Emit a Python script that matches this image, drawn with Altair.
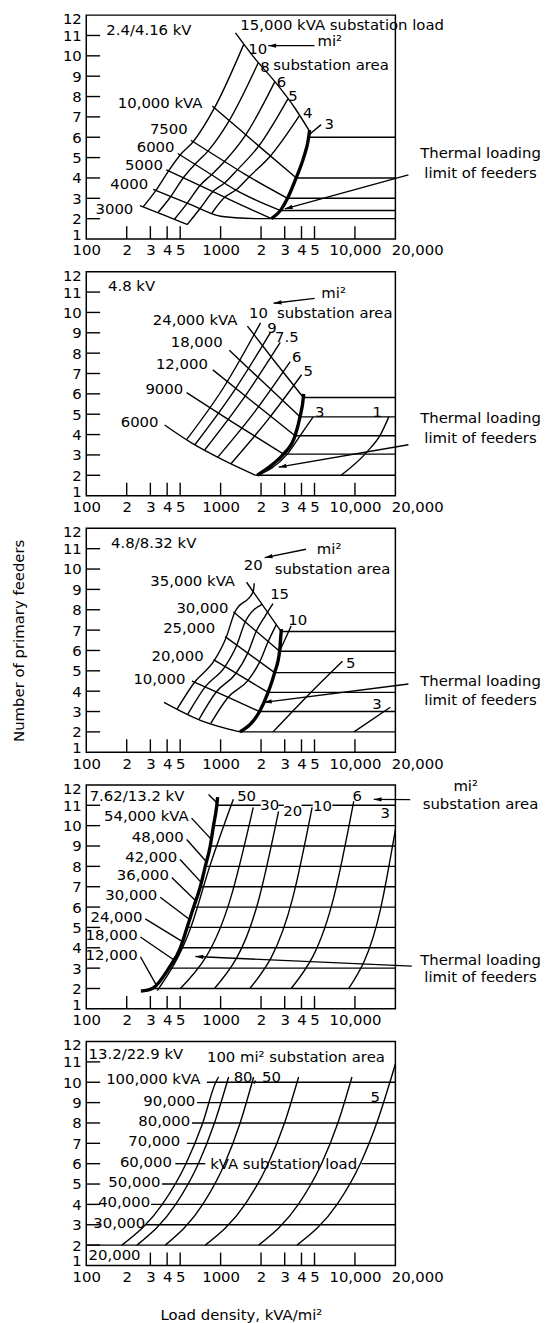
import math
import altair as alt
import pandas as pd

FONT = "DejaVu Sans"
FS = 15
W, H = 312, 226
XDOM = [100, 20000]
YDOM = [1, 12]
RIGHT = 20000

XVALS = [100, 200, 300, 400, 500, 1000, 2000, 3000, 4000, 5000, 10000, 20000]
XVALS_P4 = [100, 200, 300, 400, 500, 1000, 2000, 3000, 4000, 5000, 10000]
XTICKS = [200, 300, 400, 500, 1000, 2000, 3000, 4000, 5000, 10000]
XTICKS_P5 = [300, 400, 500, 1000, 2000, 3000, 4000, 5000, 10000]
YVALS = list(range(1, 13))
YTICKS = list(range(2, 12))

# ---------------- Panel 1 : 2.4/4.16 kV ----------------
P1_KVA = {
    "3000": [(251, 2.64), (400, 2.11), (569, 1.71)],
    "4000": [(315, 3.44), (600, 2.69), (1000, 2.12), (1862, 2.0)],
    "5000": [(394, 4.4), (800, 3.45), (1200, 2.9), (2393, 2.0)],
    "6000": [(480, 5.2), (800, 4.28), (1300, 3.4), (2800, 2.4)],
    "7500": [(601, 5.85), (1000, 4.93), (1500, 4.2), (3150, 3.0)],
    "10000": [(868, 7.53), (1300, 6.54), (1900, 5.6), (3650, 4.0)],
    "15000": [(1290, 11.13), (1808, 9.85), (2537, 8.73), (3560, 7.45), (4590, 6.3)],
}
P1_AREA = {
    "10": [(265, 2.58), (330, 3.39), (410, 4.35), (500, 5.13), (625, 5.78), (900, 7.44), (1484, 10.55)],
    "8": [(341, 2.29), (426, 3.09), (528, 4.01), (644, 4.67), (805, 5.32), (1159, 6.82), (1910, 9.67)],
    "6": [(453, 1.97), (565, 2.76), (702, 3.63), (855, 4.16), (1069, 4.81), (1538, 6.12), (2535, 8.73)],
    "5": [(566, 1.72), (706, 2.51), (877, 3.33), (1069, 3.75), (1337, 4.41), (1923, 5.57), (3170, 7.89)],
    "4": [(863, 2.28), (1072, 3.05), (1306, 3.42), (1633, 4.06), (2350, 5.08), (3873, 7.07)],
    "3": [(4600, 6.15), (5600, 6.62)],
}
P1_THERMAL = [(2393, 2.0), (2800, 2.42), (3150, 3.0), (3650, 4.0), (4150, 5.0), (4500, 5.9), (4600, 6.35)]
P1_FEEDERS = [(6.0, 4600), (4.0, 3650), (3.0, 3150), (2.4, 2800), (2.0, 1862)]
P1_ARROWS = [(5000, 10.5, 2265, 10.5), (25000, 4.15, 3006, 2.48)]
P1_TEXT_L = [("2.4/4.16 kV", 141, 11.29), ("15,000 kVA substation load", 1403, 11.53),
             ("10", 1607, 10.33), ("mi²", 5260, 10.73), ("substation area", 2466, 9.53)]
P1_TEXT_C = [("8", 2143, 9.45), ("6", 2843, 8.73), ("5", 3460, 8.0), ("4", 4460, 7.2), ("3", 6440, 6.64),
             ("Thermal loading", 86000, 5.2), ("limit of feeders", 86000, 4.25)]
P1_TEXT_R = [("10,000 kVA", 733, 7.69), ("7500", 569, 6.41), ("6000", 454, 5.53),
             ("5000", 372, 4.64), ("4000", 289, 3.68), ("3000", 224, 2.48)]

# ---------------- Panel 2 : 4.8 kV ----------------
P2_KVA = {
    "6000": [(383, 4.47), (607, 3.59), (1067, 2.72), (1823, 2.0)],
    "9000": [(558, 6.06), (1200, 4.65), (2942, 3.04)],
    "12000": [(875, 7.18), (1700, 5.65), (3583, 3.94)],
    "18000": [(1161, 8.14), (2100, 6.54), (3899, 4.87)],
    "24000": [(1583, 9.33), (2488, 7.65), (4128, 5.82)],
}
P2_AREA = {
    "10": [(558, 3.75), (1050, 6.3), (1983, 9.49)],
    "9": [(643, 3.5), (1260, 6.15), (2348, 9.01)],
    "7.5": [(761, 3.24), (1490, 5.8), (2780, 8.53)],
    "6": [(953, 2.89), (1810, 5.15), (3296, 7.58)],
    "5": [(1194, 2.57), (2230, 4.7), (4009, 6.94)],
    "3": [(1875, 2.0), (3100, 3.0), (3900, 3.94), (4887, 4.87)],
    "1": [(7888, 2.0), (12500, 3.2), (15500, 4.0), (17870, 4.87)],
}
P2_THERMAL = [(1875, 2.0), (2400, 2.5), (2942, 3.04), (3583, 3.94), (3899, 4.87), (4128, 5.82), (4150, 6.0)]
P2_FEEDERS = [(5.82, 4128), (4.87, 3899), (3.94, 3583), (3.04, 2942), (2.0, 1823)]
P2_ARROWS = [(5017, 10.69, 2483, 10.45), (25000, 3.5, 2703, 2.4)]
P2_TEXT_L = [("4.8 kV", 145, 11.32), ("mi²", 5620, 10.93), ("10", 1627, 9.97), ("substation area", 2626, 9.97)]
P2_TEXT_C = [("9", 2415, 9.25), ("7.5", 3110, 8.77), ("6", 3683, 7.82), ("5", 4487, 7.1),
             ("3", 5460, 5.11), ("1", 14660, 5.11),
             ("Thermal loading", 86000, 4.8), ("limit of feeders", 86000, 3.85)]
P2_TEXT_R = [("24,000 kVA", 1335, 9.65), ("18,000", 1036, 8.53), ("12,000", 804, 7.45),
             ("9000", 527, 6.22), ("6000", 345, 4.63)]

# ---------------- Panel 3 : 4.8/8.32 kV ----------------
P3_KVA = {
    "base": [(379, 3.45), (706, 2.57), (1393, 2.0)],
    "15000": [(613, 4.5), (1100, 3.74), (1950, 3.0)],
    "20000": [(885, 5.55), (1400, 4.76), (2257, 3.94)],
    "25000": [(1080, 6.68), (2524, 4.91)],
    "30000": [(1245, 7.9), (2748, 5.96)],
    "35000": [(1560, 9.35), (2826, 6.93)],
}
P3_AREA = {
    "20": [(475, 3.13), (640, 4.44), (900, 5.52), (1100, 6.64), (1270, 7.85), (1750, 8.9), (1780, 9.3)],
    "17.5": [(570, 2.87), (767, 4.21), (1079, 5.21), (1318, 6.26), (1524, 7.4), (2037, 8.26)],
    "15": [(690, 2.61), (927, 3.96), (1303, 4.88), (1592, 5.87), (1841, 6.94), (2150, 7.7), (2455, 8.3)],
    "12.5": [(845, 2.42), (1138, 3.7), (1600, 4.53), (1954, 5.44), (2260, 6.44), (2600, 7.27)],
    "10": [(2748, 5.96), (3350, 7.2)],
    "5": [(2455, 2.0), (4446, 3.78), (8070, 5.47)],
    "3": [(9840, 2.0), (18330, 3.21)],
}
P3_THERMAL = [(1393, 2.0), (1950, 3.0), (2257, 3.94), (2524, 4.91), (2748, 5.96), (2826, 6.93), (2840, 7.05)]
P3_FEEDERS = [(6.93, 2826), (5.96, 2748), (4.91, 2524), (3.94, 2257), (3.0, 1950), (2.0, 1393)]
P3_ARROWS = [(4325, 10.97, 2130, 10.56), (25000, 4.35, 2100, 3.45)]
P3_TEXT_L = [("4.8/8.32 kV", 153, 11.29), ("substation area", 2525, 10.0)]
P3_TEXT_C = [("mi²", 6427, 10.97), ("20", 1747, 10.2), ("15", 2748, 8.79), ("10", 3750, 7.49),
             ("5", 9290, 5.39), ("3", 14620, 3.37),
             ("Thermal loading", 86000, 4.5), ("limit of feeders", 86000, 3.55)]
P3_TEXT_R = [("35,000 kVA", 1280, 9.43), ("30,000", 1143, 8.1), ("25,000", 911, 7.09),
             ("20,000", 747, 5.75), ("10,000", 547, 4.62)]

# ---------------- Panel 4 : 7.62/13.2 kV ----------------
P4_AREA = {
    "50": [(338, 1.9), (600, 5.0), (830, 8.0), (1244, 11.3)],
    "30": [(502, 2.0), (1189, 6.45), (1750, 10.9)],
    "20": [(900, 2.0), (1919, 6.35), (2700, 10.7)],
    "10": [(1651, 2.0), (3443, 6.45), (4800, 10.9)],
    "6": [(3350, 2.0), (7030, 6.6), (9800, 11.2)],
    "3": [(9000, 2.0), (15500, 5.9), (20000, 9.8)],
}
P4_THERMAL = [(255, 1.87), (310, 2.0), (412, 3.0), (502, 4.0), (563, 5.0), (630, 6.0), (706, 7.0),
              (769, 8.0), (837, 9.0), (885, 10.0), (937, 11.0), (950, 11.4)]
P4_FEEDERS = [(2, 310), (3, 412), (4, 502), (5, 563), (6, 630), (7, 706), (8, 769), (9, 837), (10, 885)]
P4_TOP_SEGMENTS = [(937, 1990), (2700, 2960), (4010, 4850), (6800, 20000)]
P4_TOP_N = 11
P4_LEADERS = [(813, 11.53, 937, 11.12), (608, 10.37, 860, 9.3), (559, 9.32, 790, 8.2),
              (499, 8.34, 720, 7.2), (433, 7.45, 655, 6.3), (355, 6.48, 585, 5.4),
              (275, 5.42, 520, 4.3), (253, 4.53, 450, 3.4), (253, 3.56, 330, 2.2)]
P4_ARROWS = [(25750, 11.28, 13800, 11.29), (26500, 3.1, 650, 3.57)]
P4_TEXT_L = [("7.62/13.2 kV", 106, 11.45)]
P4_TEXT_C = [("50", 1561, 11.45), ("30", 2320, 11.0), ("20", 3448, 10.72), ("10", 5740, 10.96),
             ("6", 10400, 11.45), ("3", 16830, 10.64),
             ("mi²", 66700, 11.94), ("substation area", 86000, 11.05),
             ("Thermal loading", 86000, 3.41), ("limit of feeders", 86000, 2.54)]
P4_TEXT_R = [("54,000 kVA", 579, 10.47), ("48,000", 532, 9.42), ("42,000", 475, 8.44),
             ("36,000", 412, 7.55), ("30,000", 338, 6.58), ("24,000", 262, 5.52),
             ("18,000", 241, 4.63), ("12,000", 241, 3.66)]

# ---------------- Panel 5 : 13.2/22.9 kV ----------------
P5_AREA = {
    "100": [(184, 2), (368, 4), (552, 6), (736, 8), (920, 10), (966, 10.26)],
    "80": [(238, 2), (463, 4), (683, 6), (900, 8), (1147, 10.26)],
    "50": [(387, 2), (736, 4), (1072, 6), (1397, 8), (1761, 10.26)],
    "25": [(769, 2), (1520, 4), (2260, 6), (2990, 8), (3808, 10.26)],
    "10": [(1918, 2), (3790, 4), (5640, 6), (7460, 8), (9500, 10.26)],
    "5": [(3700, 2), (7360, 4), (10960, 6), (14530, 8), (20000, 10.9)],
}
P5_FEEDERS = [(10, 791), (9, 667), (8, 612), (7, 561), (5, 366), (4, 303), (3, 275), (2, 100)]
P5_SIX_SEGMENTS = [(460, 770), (11200, 20000)]
P5_SIX_N = 6
P5_TEXT_L = [("13.2/22.9 kV", 104, 11.39), ("100 mi² substation area", 791, 11.23),
             ("80,", 1250, 10.26), ("50", 2032, 10.26), ("20,000", 104, 1.5)]
P5_TEXT_C = [("5", 14170, 9.29), ("kVA substation load", 2944, 5.98)]
P5_TEXT_R = [("100,000 kVA", 706, 10.15), ("90,000", 648, 9.1), ("80,000", 594, 8.1),
             ("70,000", 501, 7.1), ("60,000", 434, 6.1), ("50,000", 356, 5.1),
             ("40,000", 299, 4.1), ("30,000", 275, 3.1)]

# ---------------- helpers ----------------
LABEL_EXPR = ("datum.value >= 10000 ? format(datum.value, ',') : "
              "(datum.value == 100 || datum.value == 1000) ? format(datum.value, 'd') : "
              "format(datum.value / pow(10, floor(log(datum.value) / LN10 + 1e-9)), 'd')")
HEAD = "M0,0L0.42,1.5L-0.42,1.5Z"
KX = W / math.log10(XDOM[1] / XDOM[0])
KY = H / (YDOM[1] - YDOM[0])
LW = 1.4


def rows_from(curves):
    rows = []
    for name, pts in curves.items():
        for i, (d, n) in enumerate(pts):
            rows.append({"id": name, "i": i, "D": d, "n": n})
    return pd.DataFrame(rows)


def xenc(xvals, title):
    axis = alt.Axis(title=title, values=xvals, labelExpr=LABEL_EXPR, labelFlush=False,
                    labelOverlap=False, labelPadding=4, labelBound=False, titlePadding=24,
                    labelOffset=alt.condition("datum.value == 20000", alt.value(22), alt.value(0)))
    return alt.X("D:Q", scale=alt.Scale(type="log", domain=XDOM, nice=False), axis=axis)


def yenc(title):
    axis = alt.Axis(title=title, values=YVALS, labelPadding=5, labelOverlap=False,
                    labelFlush=True, labelFlushOffset=3.5, titlePadding=36)
    return alt.Y("n:Q", scale=alt.Scale(domain=YDOM, nice=False, zero=False), axis=axis)


def panel(curved, straight, thermal, arrows, tl, tc, tr, xvals, xticks, xtitle=None, ytitle=None):
    X = xenc(xvals, xtitle)
    Y = yenc(ytitle)
    layers = []
    layers.append(alt.Chart(pd.DataFrame({"D": xticks})).mark_rule(color="black", strokeWidth=LW)
                  .encode(x=X, y=alt.value(H), y2=alt.value(H - 13)))
    layers.append(alt.Chart(pd.DataFrame({"n": YTICKS})).mark_rule(color="black", strokeWidth=LW)
                  .encode(y=Y, x=alt.value(0), x2=alt.value(14)))
    layers.append(alt.Chart(rows_from(curved)).mark_line(color="black", strokeWidth=LW, interpolate="monotone")
                  .encode(x=X, y=Y, detail="id:N", order="i:Q"))
    arrow_lines = {}
    heads = []
    for k, (d0, n0, d1, n1) in enumerate(arrows):
        arrow_lines[f"arrow{k}"] = [(d0, n0), (d1, n1)]
        dx = KX * (math.log10(d1) - math.log10(d0))
        dy = -KY * (n1 - n0)
        ang = math.degrees(math.atan2(dx, -dy)) % 360
        heads.append({"D": d1, "n": n1, "ang": ang})
    all_straight = dict(straight)
    all_straight.update(arrow_lines)
    layers.append(alt.Chart(rows_from(all_straight)).mark_line(color="black", strokeWidth=LW)
                  .encode(x=X, y=Y, detail="id:N", order="i:Q"))
    if thermal:
        layers.append(alt.Chart(rows_from({"t": thermal})).mark_line(color="black", strokeWidth=3.4,
                                                                        interpolate="monotone")
                      .encode(x=X, y=Y, order="i:Q"))
    if heads:
        layers.append(alt.Chart(pd.DataFrame(heads)).mark_point(shape=HEAD, filled=True, color="black",
                                                                 size=110, opacity=1, strokeWidth=0)
                      .encode(x=X, y=Y, angle=alt.Angle("ang:Q", scale=None)))
    for align, tx in (("left", tl), ("center", tc), ("right", tr)):
        if tx:
            df = pd.DataFrame([{"t": t, "D": d, "n": n} for t, d, n in tx])
            layers.append(alt.Chart(df).mark_text(align=align, baseline="middle", font=FONT, fontSize=FS,
                                                  color="black")
                          .encode(x=X, y=Y, text="t:N"))
    return alt.layer(*layers).properties(width=W, height=H)


def feeders(fl, prefix):
    return {f"{prefix}{k}": [(d0, n), (RIGHT, n)] for k, (n, d0) in enumerate(fl)}


def segments(segs, n, prefix):
    return {f"{prefix}{k}": [(a, n), (b, n)] for k, (a, b) in enumerate(segs)}


def leaders(ls):
    return {f"lead{k}": [(a, b), (c, d)] for k, (a, b, c, d) in enumerate(ls)}


c1 = dict(P1_KVA); c1.update({"a" + k: v for k, v in P1_AREA.items()})
c2 = dict(P2_KVA); c2.update({"a" + k: v for k, v in P2_AREA.items()})
c3 = dict(P3_KVA); c3.update({"a" + k: v for k, v in P3_AREA.items()})
c4 = {"a" + k: v for k, v in P4_AREA.items()}
c5 = {"a" + k: v for k, v in P5_AREA.items()}

s4 = feeders(P4_FEEDERS, "f"); s4.update(segments(P4_TOP_SEGMENTS, P4_TOP_N, "top")); s4.update(leaders(P4_LEADERS))
s5 = feeders(P5_FEEDERS, "f"); s5.update(segments(P5_SIX_SEGMENTS, P5_SIX_N, "six"))

p1 = panel(c1, feeders(P1_FEEDERS, "f"), P1_THERMAL, P1_ARROWS, P1_TEXT_L, P1_TEXT_C, P1_TEXT_R, XVALS, XTICKS)
p2 = panel(c2, feeders(P2_FEEDERS, "f"), P2_THERMAL, P2_ARROWS, P2_TEXT_L, P2_TEXT_C, P2_TEXT_R, XVALS, XTICKS)
p3 = panel(c3, feeders(P3_FEEDERS, "f"), P3_THERMAL, P3_ARROWS, P3_TEXT_L, P3_TEXT_C, P3_TEXT_R, XVALS, XTICKS,
           ytitle="Number of primary feeders")
p4 = panel(c4, s4, P4_THERMAL, P4_ARROWS, P4_TEXT_L, P4_TEXT_C, P4_TEXT_R, XVALS_P4, XTICKS)
p5 = panel(c5, s5, None, [], P5_TEXT_L, P5_TEXT_C, P5_TEXT_R, XVALS, XTICKS_P5,
           xtitle="Load density, kVA/mi²")

chart = (alt.vconcat(p1, p2, p3, p4, p5, spacing=33, bounds="flush")
         .properties(padding={"left": 3, "top": -4, "right": 2, "bottom": 4})
         .configure(font=FONT)
         .configure_view(stroke="black", strokeWidth=1.5)
         .configure_axis(grid=False, domain=False, ticks=False, labelFont=FONT, labelFontSize=FS,
                         labelColor="black", titleFont=FONT, titleFontSize=FS, titleFontWeight="normal",
                         titleColor="black"))

chart.save("out.html", embed_options={"renderer": "svg", "actions": False})
